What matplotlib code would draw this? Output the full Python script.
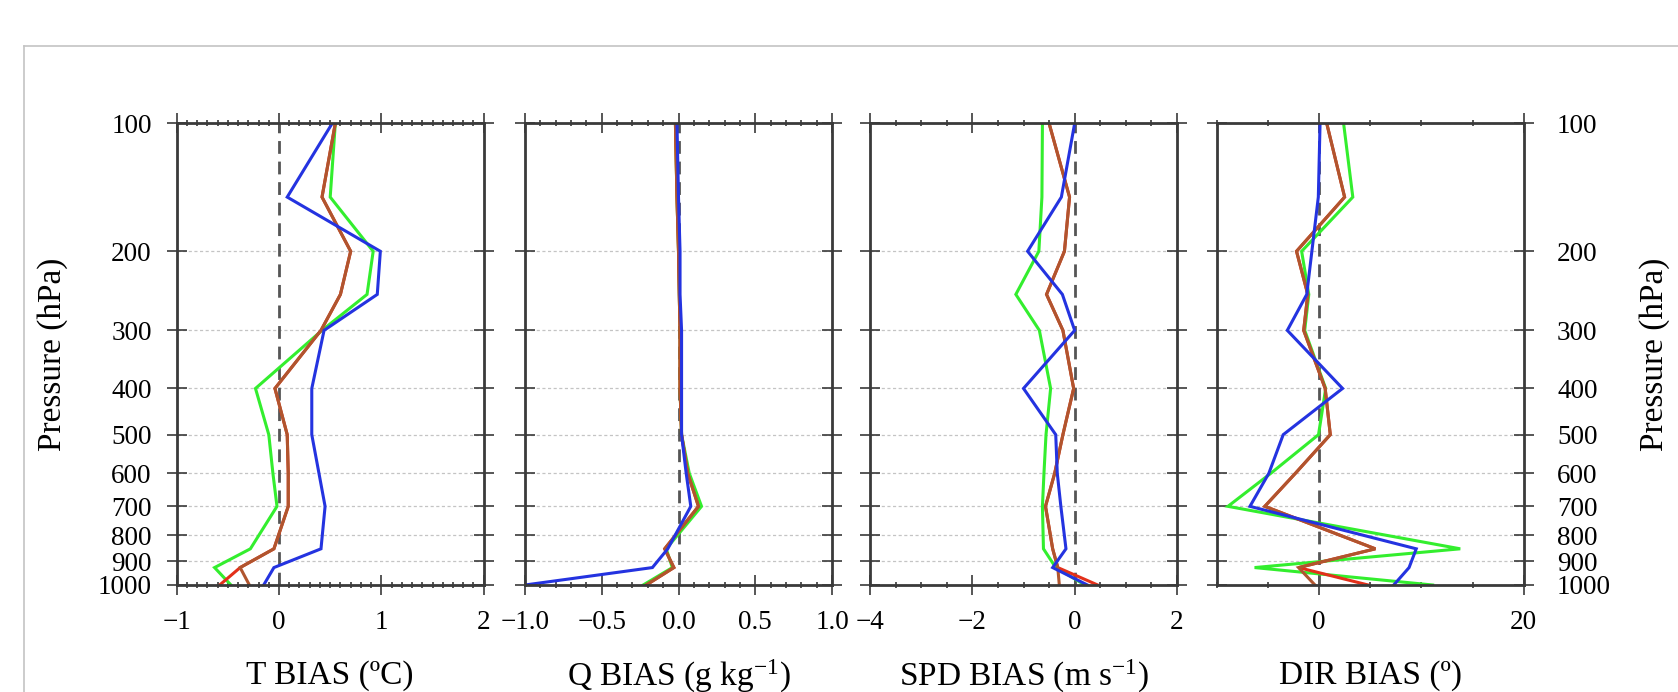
import matplotlib
matplotlib.use("Agg")
import matplotlib.pyplot as plt
from matplotlib.ticker import MultipleLocator, FixedLocator
from matplotlib.lines import Line2D

plt.rcParams['font.family'] = ['Liberation Serif', 'DejaVu Serif']
plt.rcParams['mathtext.fontset'] = 'custom'
plt.rcParams['mathtext.rm'] = 'Liberation Serif'
plt.rcParams['mathtext.it'] = 'Liberation Serif:italic'

# ---------------- data ----------------
levels = [100, 150, 200, 250, 300, 400, 500, 600, 700, 850, 925, 1000]
ytick_levels = [100, 200, 300, 400, 500, 600, 700, 800, 900, 1000]

t_green = [0.55, 0.50, 0.92, 0.86, 0.42, -0.23, -0.10, -0.06, -0.02, -0.28, -0.63, -0.47]
t_red   = [0.55, 0.42, 0.70, 0.60, 0.41, -0.04, 0.08, 0.09, 0.09, -0.05, -0.38, -0.58]
t_brown = [0.55, 0.42, 0.70, 0.60, 0.41, -0.04, 0.08, 0.09, 0.09, -0.05, -0.38, -0.29]
t_blue  = [0.52, 0.08, 0.99, 0.96, 0.44, 0.32, 0.32, 0.39, 0.45, 0.41, -0.05, -0.15]

q_green = [-0.02, -0.01, 0.00, 0.005, 0.01, 0.01, 0.02, 0.07, 0.15, -0.08, -0.04, -0.23]
q_red   = [-0.02, -0.01, 0.00, 0.005, 0.01, 0.01, 0.02, 0.06, 0.13, -0.09, -0.03, -0.21]
q_brown = [-0.02, -0.01, 0.00, 0.005, 0.01, 0.01, 0.02, 0.06, 0.13, -0.09, -0.03, -0.21]
q_blue  = [-0.01, 0.00, 0.01, 0.01, 0.02, 0.02, 0.02, 0.05, 0.08, -0.07, -0.17, -1.00]

s_green = [-0.63, -0.64, -0.70, -1.15, -0.69, -0.47, -0.56, -0.60, -0.63, -0.61, -0.37, 0.20]
s_red   = [-0.50, -0.10, -0.20, -0.55, -0.23, -0.02, -0.23, -0.39, -0.57, -0.43, -0.33, 0.45]
s_brown = [-0.50, -0.10, -0.20, -0.55, -0.23, -0.02, -0.23, -0.39, -0.57, -0.43, -0.33, -0.30]
s_blue  = [0.00, -0.26, -0.92, -0.24, 0.00, -1.00, -0.37, -0.34, -0.27, -0.17, -0.43, 0.25]

d_green = [2.4, 3.3, -1.7, -1.0, -1.4, 0.65, -0.05, -4.7, -8.9, 13.8, -6.3, 11.1]
d_red   = [0.75, 2.5, -2.2, -1.1, -1.5, 0.6, 1.1, -2.3, -5.3, 5.5, -2.0, 4.8]
d_brown = [0.75, 2.5, -2.2, -1.1, -1.5, 0.6, 1.1, -2.3, -5.3, 5.5, -2.0, -0.4]
d_blue  = [0.1, -0.07, -0.7, -1.2, -3.1, 2.3, -3.5, -4.9, -6.75, 9.5, 8.8, 7.3]

panels = [
    dict(series=[t_green, t_red, t_brown, t_blue], xlim=(-1, 2), major=1, minor=0.1,
         label='T BIAS (ºC)'),
    dict(series=[q_green, q_red, q_brown, q_blue], xlim=(-1, 1), major=0.5, minor=0.1,
         label=r'Q BIAS (g kg$^{-1}$)'),
    dict(series=[s_green, s_red, s_brown, s_blue], xlim=(-4, 2), major=2, minor=0.5,
         label=r'SPD BIAS (m s$^{-1}$)'),
    dict(series=[d_green, d_red, d_brown, d_blue], xlim=(-10, 20), major=20, minor=5,
         label='DIR BIAS (º)'),
]
colors = ['#33ee2e', '#e3301a', '#b0552e', '#2433e0']

# ---------------- figure ----------------
W, H = 1678, 692
fig = plt.figure(figsize=(W / 100, H / 100), dpi=100)
fig.patch.set_facecolor('white')

# outer frame lines (screenshot border)
fig.add_artist(Line2D([24 / W, 1], [1 - 46 / H, 1 - 46 / H], color='#c4c4c4', lw=1.2))
fig.add_artist(Line2D([24 / W, 24 / W], [0, 1 - 46 / H], color='#c4c4c4', lw=1.2))

lefts = [176.7, 525, 870, 1216.7]
pw = 307.0
top, bot = 123.3, 585.0
spine_col = '#3a3a3a'

fwd = lambda p: p ** 0.1
inv = lambda v: v ** 10

for i, (pl, L) in enumerate(zip(panels, lefts)):
    ax = fig.add_axes([L / W, 1 - bot / H, pw / W, (bot - top) / H])
    ax.set_yscale('function', functions=(fwd, inv))
    ax.set_ylim(1000, 100)
    ax.set_xlim(*pl['xlim'])
    ax.yaxis.set_major_locator(FixedLocator(ytick_levels))
    ax.yaxis.set_minor_locator(FixedLocator([]))
    ax.xaxis.set_major_locator(MultipleLocator(pl['major']))
    ax.xaxis.set_minor_locator(MultipleLocator(pl['minor']))

    ax.yaxis.grid(True, which='major', color='#c4c4c4', lw=0.9, linestyle=(0, (2.5, 2.0)))
    ax.axvline(0, color='#555555', lw=2.0, dashes=(4.6, 2.8), zorder=3)

    for s, c in zip(pl['series'], colors):
        ax.plot(s, levels, color=c, lw=2.2, zorder=4, solid_joinstyle='miter')

    for sp in ax.spines.values():
        sp.set_color(spine_col)
        sp.set_linewidth(2.0)
        sp.set_zorder(5)

    ax.tick_params(axis='both', which='both', direction='inout', top=True, right=True,
                   bottom=True, left=True, color=spine_col, width=1.2, labelsize=19.5)
    ax.tick_params(axis='both', which='major', length=14)
    ax.tick_params(axis='both', which='minor', length=5)
    ax.tick_params(axis='x', which='major', pad=11)
    ax.tick_params(axis='y', which='major', pad=11)
    ax.tick_params(axis='y', labelleft=(i == 0), labelright=(i == 3))
    if i == 3:
        ax.tick_params(axis='y', which='major', pad=17)

    ax.set_xlabel(pl['label'], fontsize=24, va='center')
    ax.xaxis.set_label_coords(0.5, (bot - 676) / (bot - top))

    if i == 0:
        ax.set_ylabel('Pressure (hPa)', fontsize=24, va='center')
        ax.yaxis.set_label_coords((53 - L) / pw, 0.5)
    if i == 3:
        ax.yaxis.set_label_position('right')
        ax.set_ylabel('Pressure (hPa)', fontsize=24, va='center')
        ax.yaxis.set_label_coords((1655 - L) / pw, 0.5)

fig.savefig('out.png', dpi=100, facecolor='white')
